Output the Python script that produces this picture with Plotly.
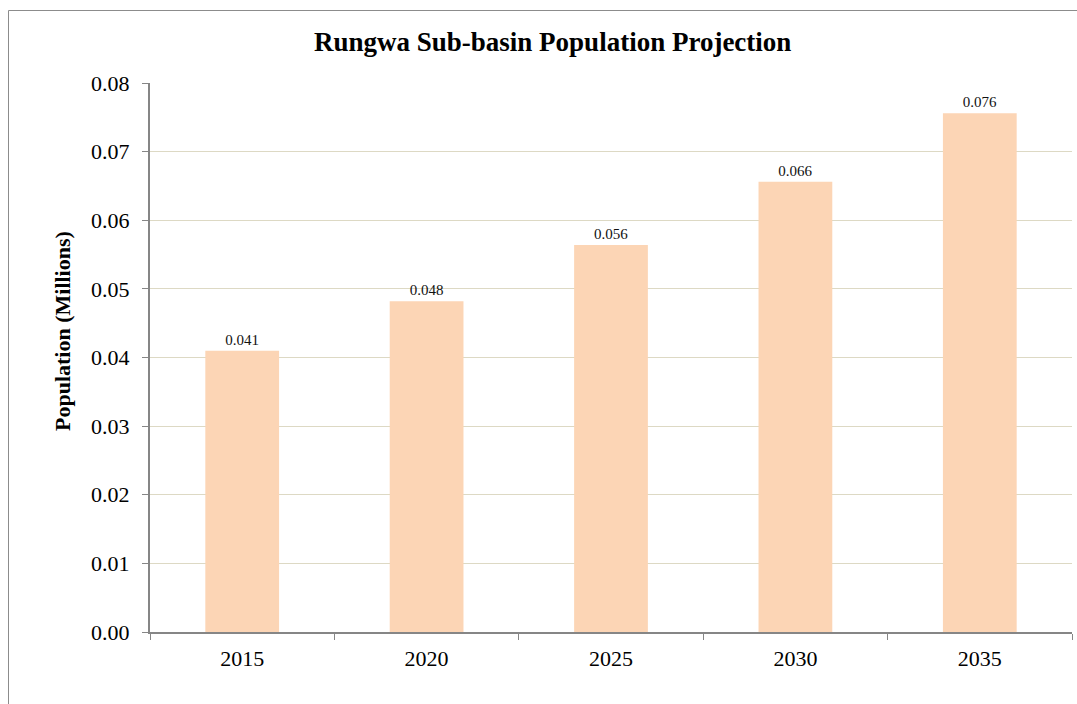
import plotly.graph_objects as go

years = ["2015", "2020", "2025", "2030", "2035"]
population_millions = [0.041, 0.0482, 0.0564, 0.0656, 0.0756]
y_ticks = [0.00, 0.01, 0.02, 0.03, 0.04, 0.05, 0.06, 0.07, 0.08]

W, H = 1077, 704
L, R, T, B = 150, 5, 83, 72
pw, ph = W - L - R, H - T - B

def px_x(x):
    return (x - L) / pw

def px_y(y):
    return 1 - (y - T) / ph

font_family = "Liberation Serif, Times New Roman, serif"

fig = go.Figure(
    go.Bar(
        x=years,
        y=population_millions,
        marker=dict(color="#FCD5B5", line=dict(width=0)),
        texttemplate="%{y:.3f}",
        textposition="outside",
        textfont=dict(family=font_family, size=15, color="#111111"),
        cliponaxis=False,
    )
)

fig.update_layout(
    width=W,
    height=H,
    margin=dict(l=L, r=R, t=T, b=B),
    paper_bgcolor="white",
    plot_bgcolor="white",
    bargap=0.6,
    showlegend=False,
    font=dict(family=font_family, color="#000000"),
    annotations=[
        dict(
            text="<b>Rungwa Sub-basin Population Projection</b>",
            xref="paper", yref="paper",
            x=px_x(552), y=px_y(42),
            xanchor="center", yanchor="middle",
            showarrow=False,
            font=dict(family=font_family, size=27, color="#000000"),
        ),
        dict(
            text="<b>Population (Millions)</b>",
            xref="paper", yref="paper",
            x=px_x(62), y=px_y(331),
            xanchor="center", yanchor="middle",
            textangle=-90,
            showarrow=False,
            font=dict(family=font_family, size=22, color="#000000"),
        ),
    ],
    shapes=[
        dict(
            type="rect", xref="paper", yref="paper",
            x0=px_x(8.5), x1=px_x(1097), y0=px_y(720), y1=px_y(10.5),
            line=dict(color="#8c8c8c", width=1),
            fillcolor="rgba(0,0,0,0)",
            layer="below",
        )
    ],
)

fig.update_xaxes(
    type="category",
    showline=True,
    linecolor="#868686",
    linewidth=2,
    ticks="outside",
    tickson="boundaries",
    ticklen=6,
    tickcolor="#868686",
    tickwidth=1,
    showgrid=False,
    ticklabelstandoff=6,
    tickfont=dict(family=font_family, size=22, color="#000000"),
)

fig.update_yaxes(
    range=[0, 0.08],
    tickvals=y_ticks,
    ticktext=[f"{v:.2f}" for v in y_ticks],
    showline=True,
    linecolor="#868686",
    linewidth=2,
    ticks="outside",
    ticklen=6,
    tickcolor="#868686",
    tickwidth=1,
    showgrid=True,
    gridcolor="#DDD9C4",
    gridwidth=1,
    zeroline=False,
    ticklabelstandoff=8,
    tickfont=dict(family=font_family, size=22, color="#000000"),
)

fig.write_html("out.html")
